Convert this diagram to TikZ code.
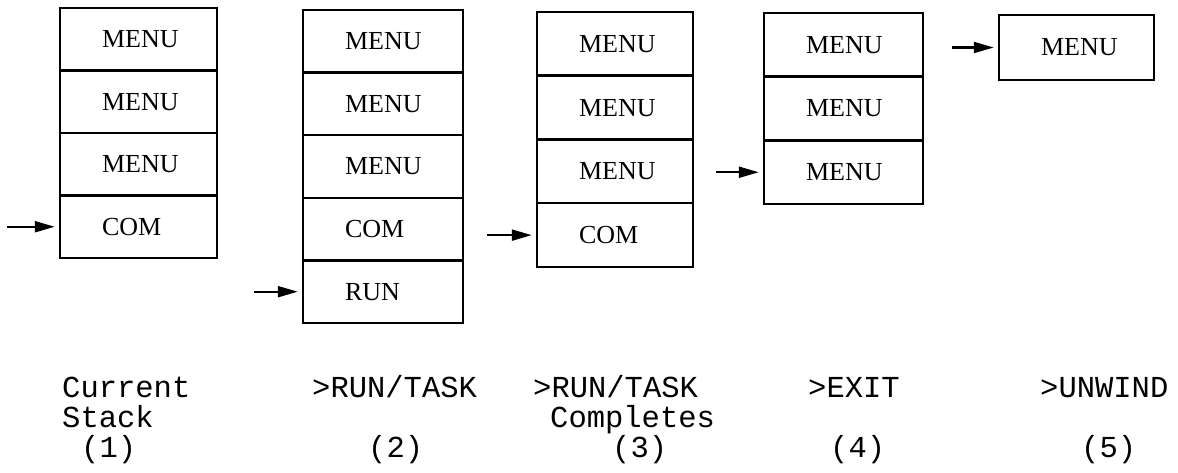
\documentclass[tikz,border=0pt]{standalone}
\usepackage{fontspec}
\setmainfont{Liberation Serif}
\newfontfamily\labelfont{Liberation Mono}
\usetikzlibrary{arrows.meta}

\begin{document}
\begin{tikzpicture}[x=1pt, y=-1pt,
  cell/.style={draw, line width=2.5pt, inner xsep=42pt, inner ysep=0pt,
               align=left, font=\fontsize{26}{26}\selectfont, anchor=center},
  ptr/.style={line width=2.2pt, -{Triangle[length=20pt, width=11pt]}, shorten >=4pt},
  caption/.style={anchor=base west, inner sep=0pt, font=\labelfont\fontsize{30.5}{31}\selectfont}
]
\useasboundingbox (0,0) rectangle (1178,473);

% Stack (1): current stack
\foreach \i/\t in {1/MENU,2/MENU,3/MENU,4/COM}
  \node[cell, text width=73pt, minimum height=62.5pt] (s1r\i) at (138.5, {8+62.5*(\i-0.5)}) {\t};

% Stack (2): after >RUN/TASK
\foreach \i/\t in {1/MENU,2/MENU,3/MENU,4/COM,5/RUN}
  \node[cell, text width=76pt, minimum height=62.6pt] (s2r\i) at (383, {10+62.6*(\i-0.5)}) {\t};

% Stack (3): the task completes
\foreach \i/\t in {1/MENU,2/MENU,3/MENU,4/COM}
  \node[cell, text width=72pt, minimum height=63.75pt] (s3r\i) at (615, {12+63.75*(\i-0.5)}) {\t};

% Stack (4): after >EXIT
\foreach \i/\t in {1/MENU,2/MENU,3/MENU}
  \node[cell, text width=75pt, minimum height=63.7pt] (s4r\i) at (843.5, {13+63.7*(\i-0.5)}) {\t};

% Stack (5): after >UNWIND
\node[cell, text width=71pt, minimum height=65pt] (s5r1) at (1076.5, 47.5) {MENU};

% Pointers to the current frame
\coordinate (p1) at ([xshift=-52pt]s1r4.west);
\coordinate (p2) at ([xshift=-48pt]s2r5.west);
\coordinate (p3) at ([xshift=-49pt]s3r4.west);
\coordinate (p4) at ([xshift=-47pt]s4r3.west);
\coordinate (p5) at ([xshift=-46pt]s5r1.west);
\draw[ptr] (p1) -- (s1r4);
\draw[ptr] (p2) -- (s2r5);
\draw[ptr] (p3) -- (s3r4);
\draw[ptr] (p4) -- (s4r3);
\draw[ptr] (p5) -- (s5r1);

% Captions
\node[caption] (c1a) at (62,397) {Current};
\node[caption] (c1b) at (62,427) {Stack};
\node[caption] (c1c) at (81,457) {(1)};

\node[caption] (c2a) at (312,397) {>RUN/TASK};
\node[caption] (c2c) at (368,457) {(2)};

\node[caption] (c3a) at (533,397) {>RUN/TASK};
\node[caption] (c3b) at (550,427) {Completes};
\node[caption] (c3c) at (612,457) {(3)};

\node[caption] (c4a) at (808,397) {>EXIT};
\node[caption] (c4c) at (830,457) {(4)};

\node[caption] (c5a) at (1040,397) {>UNWIND};
\node[caption] (c5c) at (1081,457) {(5)};
\end{tikzpicture}
\end{document}
